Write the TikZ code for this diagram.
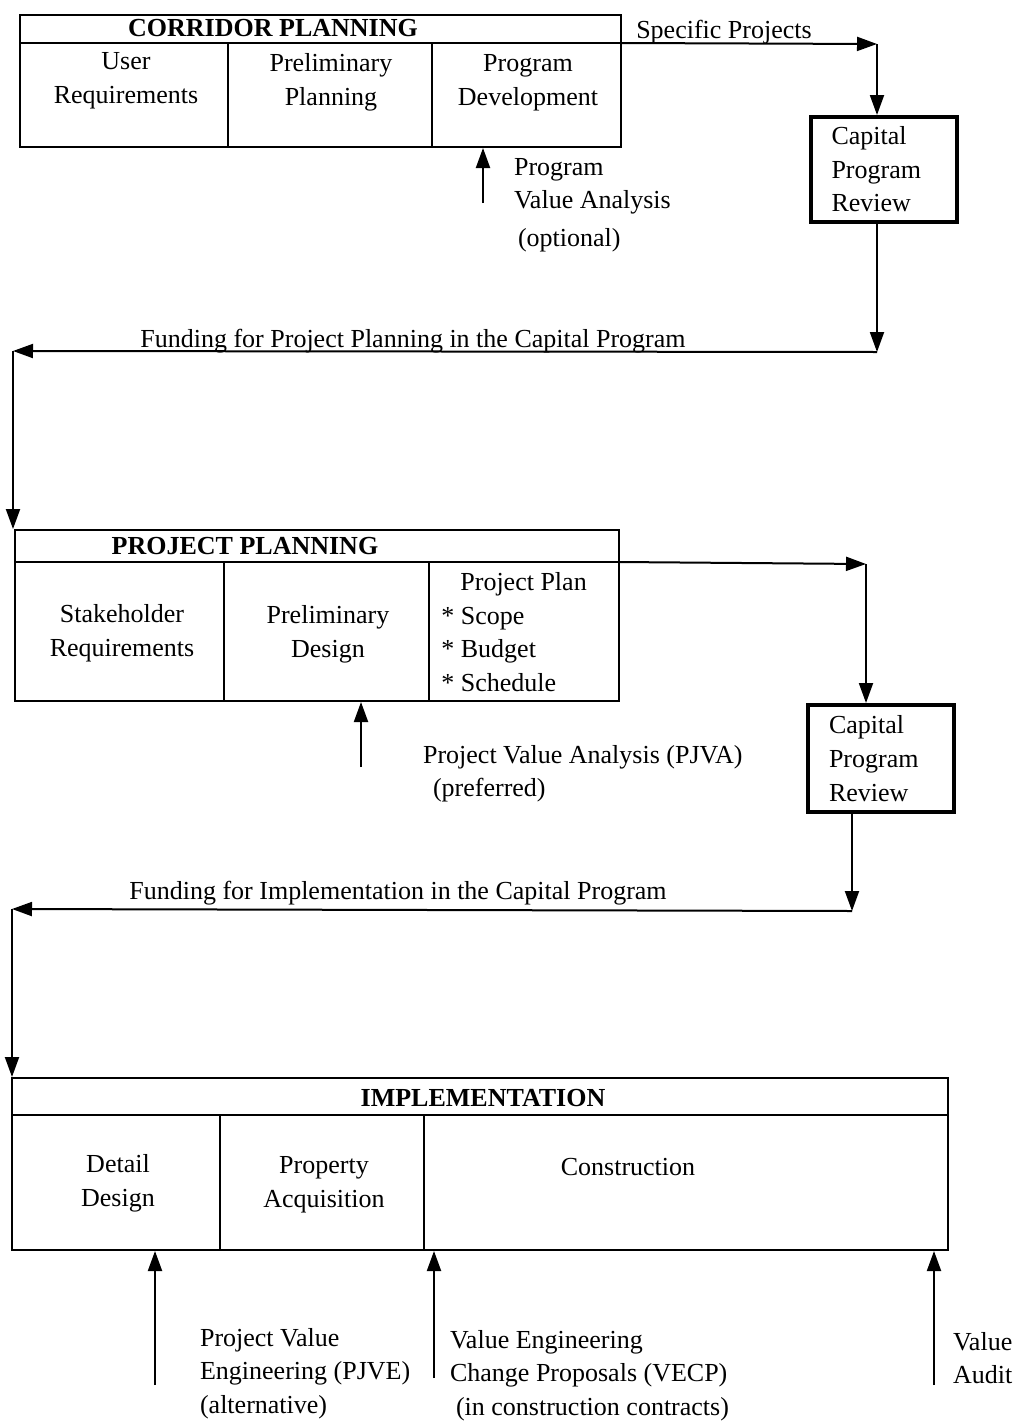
\documentclass[tikz,border=0pt]{standalone}
\usepackage{fontspec}
\setmainfont{Liberation Serif}
\usetikzlibrary{arrows.meta, positioning}
\newcommand{\diagfont}{\fontsize{13}{16.8}\selectfont}

\begin{document}
\begin{tikzpicture}[x=0.5pt, y=-0.5pt,
    font=\diagfont,
    stage/.style={draw, line width=1pt, inner sep=0pt},
    head/.style={font=\diagfont\bfseries},
    cell/.style={align=center},
    review/.style={draw, line width=2pt, align=left, text width=52pt,
                inner xsep=10.5pt, inner ysep=0pt, minimum height=52.5pt},
    flow/.style={line width=1pt, -{Triangle[length=10pt, width=7pt]}},
    note/.style={align=left, anchor=north west}
]
    \fill[white] (0,0) rectangle (1016,1424);
    \useasboundingbox (0,0) rectangle (1016,1424);

    % Corridor planning
    \node[stage, minimum width=300.5pt, minimum height=66pt] (cor) at (320.5,81) {};
    \coordinate (corH) at (621,43);
    \draw[line width=1pt] (20,43) -- (corH);
    \draw[line width=1pt] (228,43) -- (228,147);
    \draw[line width=1pt] (432,43) -- (432,147);
    \node[head] (corT) at (273,28) {CORRIDOR PLANNING};
    \node[cell] (user) at (126,81) {User\\Requirements};
    \node[cell] (prelim) at (331,82) {Preliminary\\Planning};
    \node[cell] (progdev) at (528,83) {Program\\Development};

    % Program value analysis
    \coordinate (pva) at (483,203);
    \draw[flow] (pva) -- (pva |- cor.south);
    \node[note] (pvaT) at (507,151) {Program\\Value Analysis\\[2pt]\hspace*{2pt}(optional)};

    % Capital program review 1
    \node[review] (rev1) at (883.5,169.5) {Capital\\Program\\Review};
    \coordinate (sp) at (877,44);
    \draw[flow] (corH) -- (sp);
    \node (spT) at (724,32) {Specific Projects};
    \draw[flow] (sp) -- (sp |- rev1.north);

    % Funding for project planning
    \coordinate (f1r) at (877,352);
    \coordinate (f1l) at (13,351);
    \draw[flow] (f1r |- rev1.south) -- (f1r);
    \draw[flow] (f1r) -- (f1l);
    \node (f1T) at (413,341) {Funding for Project Planning in the Capital Program};

    % Project planning
    \node[stage, minimum width=302pt, minimum height=85.5pt] (pp) at (317,615.5) {};
    \draw[flow] (f1l) -- (f1l |- pp.north);
    \coordinate (ppH) at (619,562);
    \draw[line width=1pt] (15,562) -- (ppH);
    \draw[line width=1pt] (224,562) -- (224,701);
    \draw[line width=1pt] (429,562) -- (429,701);
    \node[head] (ppT) at (245,546) {PROJECT PLANNING};
    \node[cell] (stake) at (122,633) {Stakeholder\\Requirements};
    \node[cell] (prelimd) at (328,634.5) {Preliminary\\Design};
    \node[note, inner sep=0pt] (plan) at (441,572)
        {\hspace*{9.5pt}Project Plan\\* Scope\\* Budget\\* Schedule};

    % Project value analysis
    \coordinate (pjva) at (361,767);
    \draw[flow] (pjva) -- (pjva |- pp.south);
    \node[note] (pjvaT) at (416,738) {Project Value Analysis (PJVA)\\\hspace*{5pt}(preferred)};

    % Capital program review 2
    \node[review, minimum height=53.5pt] (rev2) at (881,758.5) {Capital\\Program\\Review};
    \coordinate (pr) at (866,564);
    \draw[flow] (ppH) -- (pr);
    \draw[flow] (pr) -- (pr |- rev2.north);

    % Funding for implementation
    \coordinate (f2r) at (852,911);
    \coordinate (f2l) at (12,909);
    \draw[flow] (f2r |- rev2.south) -- (f2r);
    \draw[flow] (f2r) -- (f2l);
    \node (f2T) at (398,893) {Funding for Implementation in the Capital Program};

    % Implementation
    \node[stage, minimum width=468pt, minimum height=86pt] (imp) at (480,1164) {};
    \draw[flow] (f2l) -- (f2l |- imp.north);
    \draw[line width=1pt] (12,1115) -- (948,1115);
    \draw[line width=1pt] (220,1115) -- (220,1250);
    \draw[line width=1pt] (424,1115) -- (424,1250);
    \node[head] (impT) at (483,1098) {IMPLEMENTATION};
    \node[cell] (detail) at (118,1183) {Detail\\Design};
    \node[cell] (prop) at (324,1184.5) {Property\\Acquisition};
    \node[cell] (constr) at (628,1167) {Construction};

    % Value inputs to implementation
    \coordinate (pjve) at (155,1385);
    \coordinate (vecp) at (434,1378);
    \coordinate (va) at (934,1385);
    \draw[flow] (pjve) -- (pjve |- imp.south);
    \draw[flow] (vecp) -- (vecp |- imp.south);
    \draw[flow] (va) -- (va |- imp.south);
    \node[note] (pjveT) at (193,1321) {Project Value\\Engineering (PJVE)\\(alternative)};
    \node[note] (vecpT) at (443,1323)
        {Value Engineering\\Change Proposals (VECP)\\\hspace*{3pt}(in construction contracts)};
    \node[note] (vaT) at (946,1325) {Value\\Audit};
\end{tikzpicture}
\end{document}
